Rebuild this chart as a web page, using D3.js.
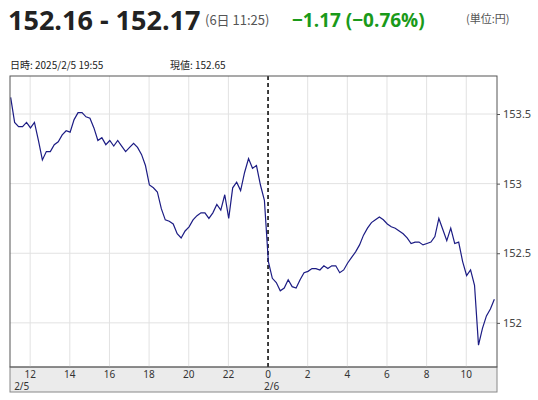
<!DOCTYPE html><html><head><meta charset="utf-8">
<script src="https://cdn.jsdelivr.net/npm/d3@7"></script>
<style>body{margin:0;background:#fff;font-family:"Noto Sans CJK JP","Noto Sans",sans-serif}</style></head><body>
<svg id="c" width="538" height="400"></svg>
<script>
const startTime = new Date(2025,1,5,11,1);
const stepMinutes = 12;
const values = [153.62,153.44,153.41,153.41,153.44,153.40,153.44,153.31,153.17,153.23,
153.23,153.28,153.30,153.35,153.38,153.37,153.46,153.51,153.51,153.48,
153.47,153.40,153.31,153.33,153.28,153.31,153.27,153.31,153.27,153.23,
153.26,153.29,153.26,153.21,153.13,152.99,152.97,152.94,152.82,152.74,
152.73,152.71,152.64,152.61,152.66,152.69,152.74,152.77,152.79,152.79,
152.75,152.79,152.85,152.81,152.92,152.75,152.97,153.01,152.95,153.08,
153.18,153.11,153.13,152.99,152.88,152.44,152.32,152.29,152.23,152.25,
152.31,152.26,152.25,152.31,152.36,152.37,152.39,152.39,152.38,152.41,
152.39,152.41,152.41,152.36,152.38,152.43,152.47,152.51,152.56,152.63,
152.68,152.72,152.74,152.76,152.74,152.71,152.69,152.68,152.66,152.64,
152.61,152.57,152.58,152.58,152.56,152.57,152.58,152.62,152.75,152.67,
152.59,152.68,152.57,152.58,152.44,152.34,152.38,152.27,151.84,151.96,
152.05,152.10,152.17];
const yTicks = [152,152.5,153,153.5];
const xTickHours = [12,14,16,18,20,22,0,2,4,6,8,10];
const dateLabels = [{t:new Date(2025,1,5,12,0),label:"2/5"},{t:new Date(2025,1,6,0,0),label:"2/6"}];
const data = values.map((v,i)=>({t:new Date(+startTime+i*stepMinutes*60000),v}));

const svg=d3.select("#c");
const L=10,R=497,T=76,B=367,AB=392;
const x=d3.scaleTime().domain([new Date(2025,1,5,10,59),new Date(2025,1,6,11,33)]).range([L,R]);
const y=d3.scaleLinear().domain([151.683,153.773]).range([B,T]);

svg.append("text").attr("x",8).attr("y",30).attr("font-size",27).attr("font-weight","bold").attr("fill","#222")
 .attr("font-family","Open Sans, Noto Sans, sans-serif").text("152.16 - 152.17");
svg.append("text").attr("x",205).attr("y",25).attr("font-size",13).attr("fill","#555").text("(6日 11:25)");
svg.append("text").attr("x",292).attr("y",27).attr("font-size",19).attr("font-weight","bold").attr("fill","#1a9a1a")
 .attr("font-family","Open Sans, Noto Sans, sans-serif").text("−1.17 (−0.76%)");
svg.append("text").attr("x",466).attr("y",23).attr("font-size",11).attr("fill","#555").text("(単位:円)");
svg.append("text").attr("x",10).attr("y",69).attr("font-size",10).attr("fill","#222").text("日時: 2025/2/5  19:55");
svg.append("text").attr("x",170).attr("y",69).attr("font-size",10).attr("fill","#222").text("現値: 152.65");

svg.append("rect").attr("x",L).attr("y",B).attr("width",R-L).attr("height",AB-B).attr("fill","#ebebeb").attr("stroke","#888");

const hourTimes = xTickHours.map(h=>h>=12?new Date(2025,1,5,h):new Date(2025,1,6,h));
svg.append("g").selectAll("line").data(hourTimes.filter(t=>t.getHours()!==0)).join("line")
 .attr("x1",d=>x(d)).attr("x2",d=>x(d)).attr("y1",T).attr("y2",B).attr("stroke","#e2e2e2");
svg.append("g").selectAll("line").data(yTicks).join("line")
 .attr("x1",L).attr("x2",R).attr("y1",d=>y(d)).attr("y2",d=>y(d)).attr("stroke","#e2e2e2");
const mid=new Date(2025,1,6,0,0);
svg.append("line").attr("x1",x(mid)).attr("x2",x(mid)).attr("y1",T).attr("y2",B).attr("stroke","#000").attr("stroke-width",1.5).attr("stroke-dasharray","4,3");

svg.append("path").datum(data).attr("fill","none").attr("stroke","#1c1c84").attr("stroke-width",1.2)
 .attr("d",d3.line().x(d=>x(d.t)).y(d=>y(d.v)));

svg.append("rect").attr("x",L).attr("y",T).attr("width",R-L).attr("height",B-T).attr("fill","none").attr("stroke","#555");

const ya=svg.append("g").attr("transform",`translate(${R},0)`).call(d3.axisRight(y).tickValues(yTicks).tickSize(3).tickFormat(d=>String(d)));
ya.select(".domain").remove();
ya.selectAll("text").attr("font-size",11).attr("fill","#444").attr("font-family","Noto Sans, sans-serif");
ya.selectAll("line").attr("stroke","#555");

svg.append("g").selectAll("text").data(hourTimes).join("text")
 .attr("x",d=>x(d)).attr("y",378).attr("text-anchor","middle").attr("font-size",10).attr("fill","#333")
 .attr("font-family","Noto Sans, sans-serif").text(d=>d.getHours());
svg.append("g").selectAll("text").data(dateLabels).join("text")
 .attr("x",d=>x(d.t)-16+ (d.label==="2/6"?12:0)).attr("y",390).attr("font-size",10).attr("fill","#333")
 .attr("font-family","Noto Sans, sans-serif").text(d=>d.label);
</script></body></html>
